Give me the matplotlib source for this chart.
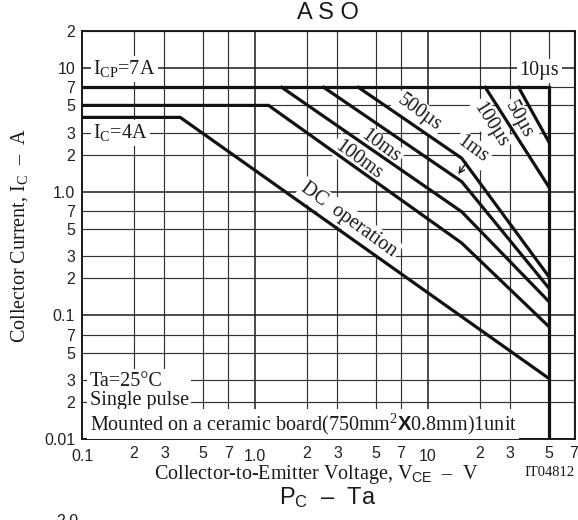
import matplotlib.pyplot as plt

W, H = 578, 520
SERIF = "Liberation Serif"
SANS = "Liberation Sans"

plt.rcParams["font.family"] = SANS
plt.rcParams["mathtext.fontset"] = "custom"
plt.rcParams["mathtext.rm"] = SERIF
plt.rcParams["mathtext.it"] = SERIF + ":italic"
plt.rcParams["mathtext.sf"] = SANS
plt.rcParams["mathtext.bf"] = SANS + ":bold"

# ASO curves (VCE in V, IC in A)
vce_10us = [0.1, 50, 50]
ic_10us = [7, 7, 0.01]
vce_50us = [33.5, 50]
ic_50us = [7, 2.55]
vce_100us = [21.5, 50]
ic_100us = [7, 1.1]
vce_500us = [3.97, 15.7, 50]
ic_500us = [7, 1.87, 0.207]
vce_1ms = [2.5, 15.7, 50]
ic_1ms = [7, 1.21, 0.167]
vce_10ms = [1.43, 15.7, 50]
ic_10ms = [7, 0.69, 0.13]
vce_100ms = [0.1, 1.2, 15.7, 50]
ic_100ms = [5, 5, 0.385, 0.0815]
vce_dc = [0.1, 0.37, 50]
ic_dc = [4, 4, 0.031]

x_major = [0.1, 1, 10]
x_major_labels = ["0.1", "1.0", "10"]
x_minor = [0.2, 0.3, 0.5, 0.7, 2, 3, 5, 7, 20, 30, 50, 70]
x_minor_labels = ["2", "3", "5", "7"] * 3
y_major = [0.01, 0.1, 1, 10]
y_major_labels = ["0.01", "0.1", "1.0", "10"]
y_minor = [0.02, 0.03, 0.05, 0.07, 0.2, 0.3, 0.5, 0.7, 2, 3, 5, 7, 20]
y_minor_labels = ["2", "3", "5", "7"] * 3 + ["2"]

fig = plt.figure(figsize=(W / 100, H / 100), dpi=100)
ax = fig.add_axes([82 / W, 1 - 439 / H, (575 - 82) / W, (439 - 31) / H])
ax.set_xscale("log")
ax.set_yscale("log")
ax.set_xlim(0.1, 71)
ax.set_ylim(0.01, 20)

ax.set_xticks(x_major, x_major_labels)
ax.set_xticks(x_minor, x_minor_labels, minor=True)
ax.set_yticks(y_major, y_major_labels)
ax.set_yticks(y_minor, y_minor_labels, minor=True)
ax.tick_params(which="both", length=0, labelsize=11.5, colors="#222222")
ax.tick_params(axis="x", which="major", pad=7)
ax.tick_params(axis="x", which="minor", pad=5)
ax.tick_params(axis="y", which="both", pad=5)

ax.set_axisbelow(True)
ax.grid(which="major", color="#1a1a1a", linewidth=1.1)
ax.grid(which="minor", color="#333333", linewidth=0.85)
for s in ax.spines.values():
    s.set_linewidth(1.4)
    s.set_color("#1a1a1a")

lw = 2.3
for xs, ys in [(vce_10us, ic_10us), (vce_50us, ic_50us), (vce_100us, ic_100us),
               (vce_500us, ic_500us), (vce_1ms, ic_1ms), (vce_10ms, ic_10ms),
               (vce_100ms, ic_100ms), (vce_dc, ic_dc)]:
    ax.plot(xs, ys, color="#111111", linewidth=lw, zorder=4, solid_joinstyle="miter")

box = dict(boxstyle="square,pad=0.12", fc="white", ec="none")
lab = dict(family=SERIF, fontsize=14.5, color="#1a1a1a", zorder=3, bbox=box)

ax.text(0.116, 9.9, r"I$_{\mathrm{CP}}$=7A", ha="left", va="center", **lab)
ax.text(0.116, 3.0, r"I$_{\mathrm{C}}$=4A", ha="left", va="center", **lab)
ax.text(44.2, 9.5, "10µs", ha="center", va="center", **lab)

rot = dict(ha="center", va="center", rotation_mode="anchor")
ax.text(8.9, 4.35, "500µs", rotation=-36, **rot, **lab)
ax.text(18.1, 2.19, "1ms", rotation=-36, **rot, **lab)
ax.text(5.3, 2.32, "10ms", rotation=-36, **rot, **lab)
ax.text(3.96, 1.82, "100ms", rotation=-36, **rot, **lab)
ax.text(3.5, 0.59, "DC  operation", rotation=-36, **rot, **lab)
ax.text(23.0, 3.48, "100µs", rotation=-58, **rot, **lab)
ax.text(33.5, 3.82, "50µs", rotation=-61, **rot, **lab)
ax.annotate("", xy=(14.7, 1.33), xytext=(17.1, 1.81),
            arrowprops=dict(arrowstyle="->", lw=1.0, color="#1a1a1a"), zorder=5)

ax.text(0.016, 0.118, "Ta=25°C\nSingle pulse", transform=ax.transAxes,
        ha="left", va="center", linespacing=1.0, **lab)
ax.text(0.016, 0.037, r"Mounted on a ceramic board(750mm$^2$$\mathbf{X}$0.8mm)1unit",
        transform=ax.transAxes, ha="left", va="center", **lab)

fig.text(328 / W, 1 - 13 / H, "A S O", ha="center", va="center", fontsize=17, color="#1a1a1a")
fig.text(20 / W, 1 - 236 / H, r"Collector Current, I$_{\mathrm{C}}$  –  A", rotation=90,
         ha="center", va="center", family=SERIF, fontsize=14.5, color="#1a1a1a")
fig.text(316 / W, 1 - 474 / H, r"Collector-to-Emitter Voltage, V$_{\mathsf{CE}}$  –  V",
         ha="center", va="center", family=SERIF, fontsize=14.5, color="#1a1a1a")
fig.text(575 / W, 1 - 472 / H, "IT04812", ha="right", va="center", family=SERIF,
         fontsize=10.5, color="#1a1a1a")
fig.text(328 / W, 1 - 498 / H, r"P$_{\mathsf{C}}$  –  Ta", ha="center", va="center",
         fontsize=17, color="#1a1a1a")
fig.text(67 / W, 1 - 514 / H, "2.0", ha="center", va="top", fontsize=11.5, color="#1a1a1a")

fig.savefig("out.png", dpi=100)
